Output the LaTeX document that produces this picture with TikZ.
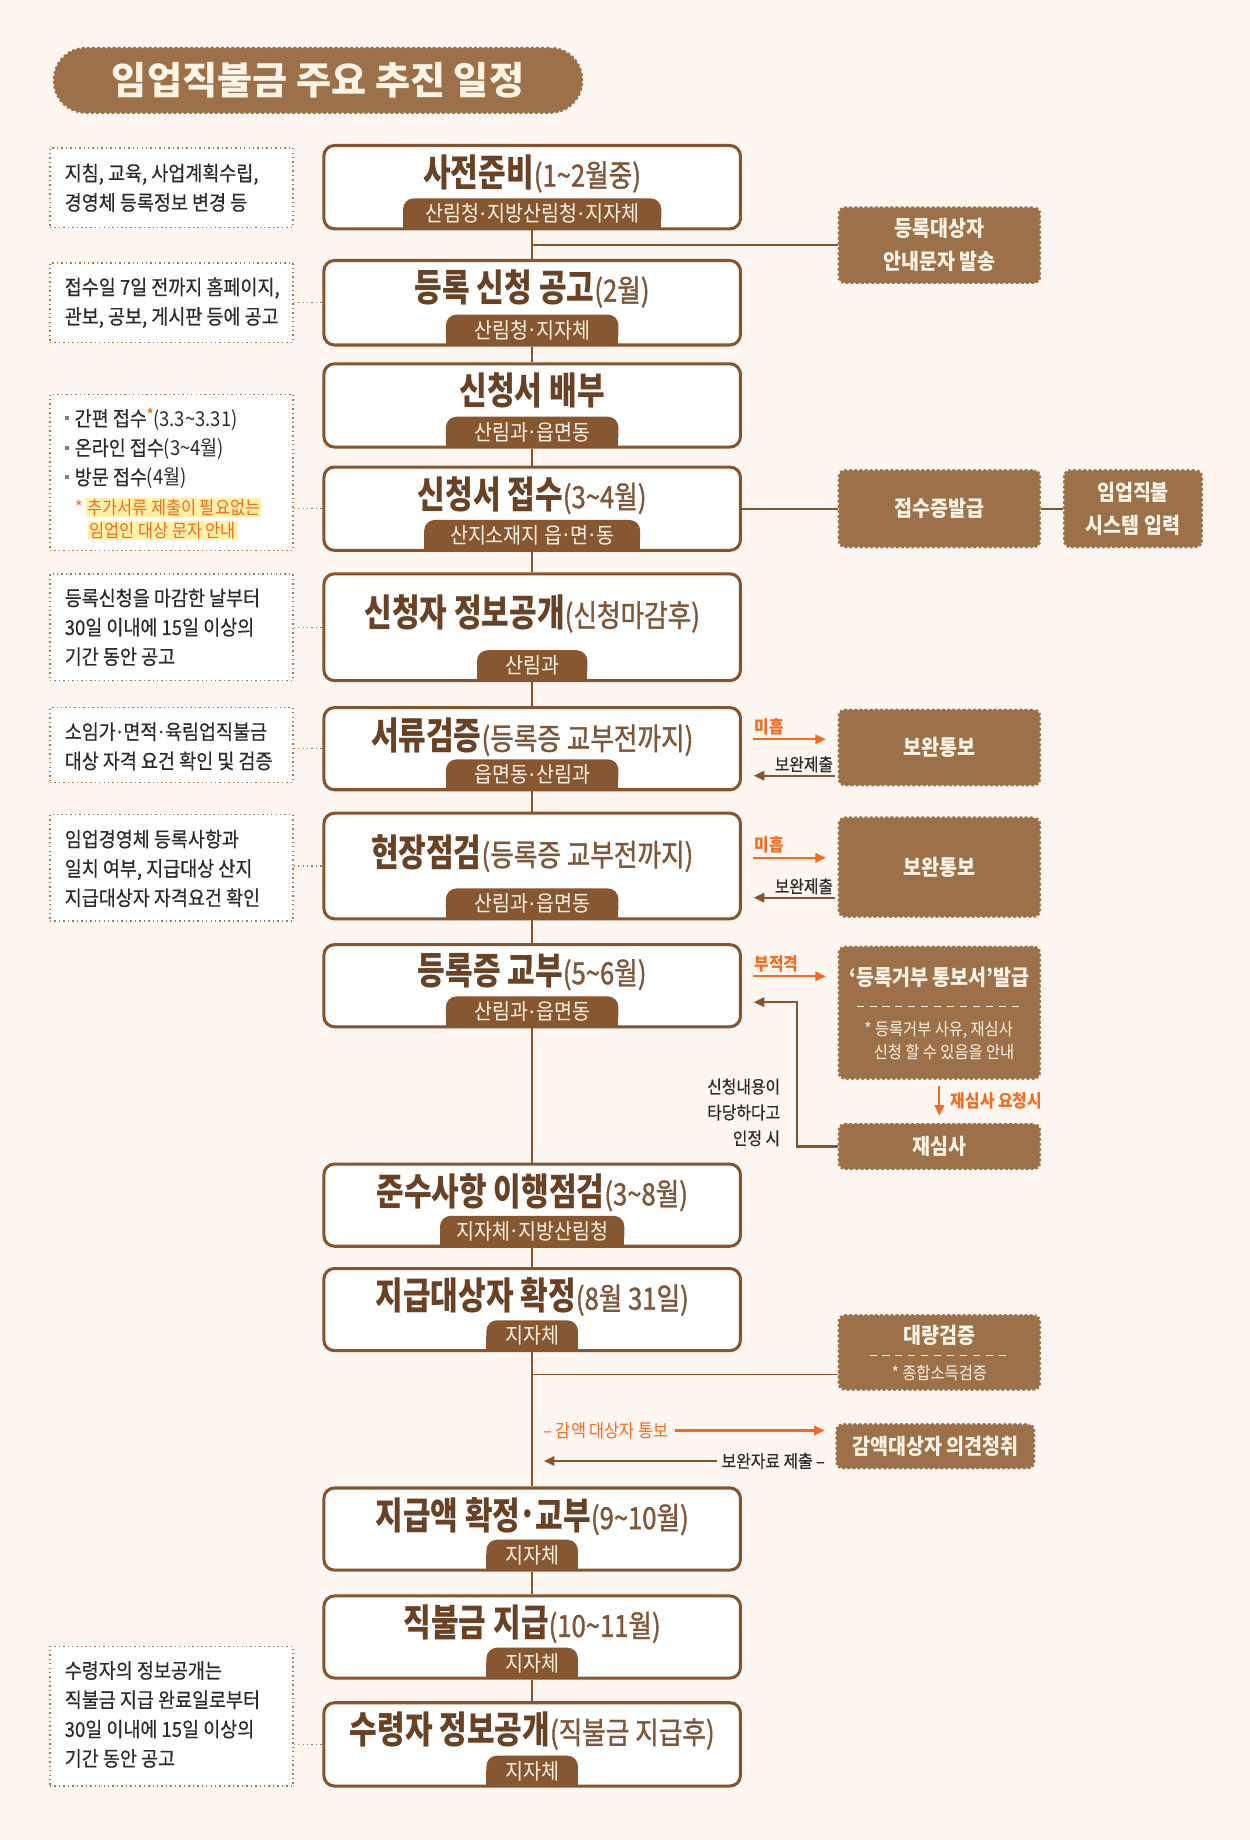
\documentclass[tikz,border=0pt]{standalone}
\usepackage{fontspec}
\setmainfont{Noto Sans CJK KR}
\newfontfamily\krcond{Noto Sans CJK KR}[FakeStretch=0.8]
\newfontfamily\krparen{Noto Sans CJK KR}[FakeStretch=0.84, FakeBold=1.2]
\newfontfamily\krnote{Noto Sans CJK KR}[FakeStretch=0.9, FakeBold=0.5]
\newfontfamily\krnarrow{Noto Sans CJK KR}[FakeStretch=0.9]
\usepackage{xcolor}
\usetikzlibrary{arrows.meta, positioning, calc, patterns.meta}

\definecolor{bgcream}{HTML}{FEF7F1}
\definecolor{stampbrown}{HTML}{9C7149}
\definecolor{linebrown}{HTML}{86552F}
\definecolor{titlebrown}{HTML}{694226}
\definecolor{parenbrown}{HTML}{7E5639}
\definecolor{tagbrown}{HTML}{875731}
\definecolor{creamtext}{HTML}{FFF4E6}
\definecolor{accent}{HTML}{F36C21}
\definecolor{notegray}{HTML}{2E2A27}
\definecolor{noteline}{HTML}{A47A55}
\definecolor{hlyellow}{HTML}{FFF2A8}

\newcommand{\subparen}[1]{{\krparen\mdseries\color{parenbrown}\fontsize{26}{26}\selectfont #1}}
\newcommand{\hlbox}[1]{{\setlength{\fboxsep}{1pt}\colorbox{hlyellow}{#1}}}
\newcommand{\tld}{\textasciitilde}
\newcommand{\mdot}{\kern0.06em\raisebox{0.3em}{.}\kern0.06em}
\newcommand{\bul}{{\color{gray}\rule[0.28em]{3.5pt}{3.5pt}}\hspace{5pt}}
\newcommand{\stagetag}[4]{%
  \fill[tagbrown] ($(#2.south)+(-#3/2,-1)$) rectangle ($(#2.south)+(#3/2,-14)$);
  \node[tagbox, minimum width=#3pt] (#1) at ($(#2.south)+(0,-1)$) {#4};}

\begin{document}
\begin{tikzpicture}[x=1pt, y=-1pt, >={Triangle[length=9pt,width=8pt]},
  stagebox/.style={draw=linebrown, line width=2.6pt, fill=white, rounded corners=9pt, minimum width=355pt, inner sep=0pt},
  stagetitle/.style={font=\krcond\bfseries\fontsize{32}{32}\selectfont, text=titlebrown, inner sep=0pt},
  tagbox/.style={fill=tagbrown, text=creamtext, rounded corners=9pt, minimum height=26pt, inner sep=0pt, anchor=south, font=\krnarrow\fontsize{18.5}{18.5}\selectfont},
  notebox/.style={draw=noteline, line width=1.2pt, dash pattern=on 1.2pt off 2.6pt, fill=white, minimum width=207pt, inner sep=0pt, anchor=west},
  notetext/.style={align=left, anchor=west, inner sep=0pt, text=notegray, font=\krnote\fontsize{17.5}{25}\selectfont},
  plainstamp/.style={fill=stampbrown, rounded corners=6pt, text=creamtext, align=center, inner sep=0pt, font=\krnarrow\bfseries\fontsize{18.5}{28}\selectfont,
    postaction={draw=bgcream, line width=2.4pt, dash pattern=on 0pt off 4.4pt, line cap=round}},
  stamp/.style={plainstamp, preaction={fill=stampbrown},
    preaction={pattern={Lines[angle=45, distance=14pt, line width=0.7pt]}, pattern color=stampbrown!82!white}},
  stamptext/.style={text=creamtext, inner sep=0pt, align=center, font=\krnarrow\bfseries\fontsize{18.5}{28}\selectfont},
  stampsub/.style={text=creamtext, inner sep=0pt, align=left, font=\krnarrow\fontsize{14.5}{20}\selectfont},
  link/.style={draw=linebrown, line width=1.6pt},
  dotlink/.style={draw=noteline, line width=1.2pt, dash pattern=on 1.2pt off 2.6pt},
  oarrow/.style={->, draw=accent, line width=1.8pt},
  barrow/.style={->, draw=linebrown, line width=1.8pt},
  olabel/.style={text=accent, font=\krnarrow\bfseries\fontsize{15}{17}\selectfont, inner sep=1pt},
  blabel/.style={text=notegray, font=\krnote\fontsize{15}{22}\selectfont, inner sep=1pt}]

\fill[bgcream] (0,0) rectangle (1065,1568);
\useasboundingbox (0,0) rectangle (1065,1568);

% title
\node[plainstamp, rounded corners=28pt, minimum width=452pt, minimum height=57pt, font=\bfseries\fontsize{32.5}{32.5}\selectfont] (head) at (271,68.5) {임업직불금 주요 추진 일정};

% main column
\node[stagebox, minimum height=71pt] (s1) at (453.5,159.5) {};
\node[stagetitle] (s1t) at (453.5,148) {사전준비\subparen{(1\tld 2월중)}};
\stagetag{s1g}{s1}{220}{산림청\mdot 지방산림청\mdot 지자체}

\node[stagebox, minimum height=72pt] (s2) at (453.5,258) {};
\node[stagetitle] (s2t) at (453.5,246) {등록 신청 공고\subparen{(2월)}};
\stagetag{s2g}{s2}{147}{산림청\mdot 지자체}

\node[stagebox, minimum height=71pt] (s3) at (453.5,345.5) {};
\node[stagetitle] (s3t) at (453.5,333) {신청서 배부};
\stagetag{s3g}{s3}{147}{산림과\mdot 읍면동}

\node[stagebox, minimum height=71pt] (s4) at (453.5,433.5) {};
\node[stagetitle] (s4t) at (453.5,422) {신청서 접수\subparen{(3\tld 4월)}};
\stagetag{s4g}{s4}{184}{산지소재지 읍\mdot 면\mdot 동}

\node[stagebox, minimum height=91pt] (s5) at (453.5,534.5) {};
\node[stagetitle] (s5t) at (453.5,523) {신청자 정보공개\subparen{(신청마감후)}};
\stagetag{s5g}{s5}{94}{산림과}

\node[stagebox, minimum height=70pt] (s6) at (453.5,638) {};
\node[stagetitle] (s6t) at (453.5,628) {서류검증\subparen{(등록증 교부전까지)}};
\stagetag{s6g}{s6}{147}{읍면동\mdot 산림과}

\node[stagebox, minimum height=90pt] (s7) at (453.5,738) {};
\node[stagetitle] (s7t) at (453.5,727) {현장점검\subparen{(등록증 교부전까지)}};
\stagetag{s7g}{s7}{147}{산림과\mdot 읍면동}

\node[stagebox, minimum height=70pt] (s8) at (453.5,840) {};
\node[stagetitle] (s8t) at (453.5,828) {등록증 교부\subparen{(5\tld 6월)}};
\stagetag{s8g}{s8}{147}{산림과\mdot 읍면동}

\node[stagebox, minimum height=70pt] (s9) at (453.5,1027) {};
\node[stagetitle] (s9t) at (453.5,1016) {준수사항 이행점검\subparen{(3\tld 8월)}};
\stagetag{s9g}{s9}{157}{지자체\mdot 지방산림청}

\node[stagebox, minimum height=70pt] (s10) at (453.5,1116) {};
\node[stagetitle] (s10t) at (453.5,1105) {지급대상자 확정\subparen{(8월 31일)}};
\stagetag{s10g}{s10}{78}{지자체}

\node[stagebox, minimum height=70pt] (s11) at (453.5,1303) {};
\node[stagetitle] (s11t) at (453.5,1292) {지급액 확정\mdot 교부\subparen{(9\tld 10월)}};
\stagetag{s11g}{s11}{78}{지자체}

\node[stagebox, minimum height=70pt] (s12) at (453.5,1395) {};
\node[stagetitle] (s12t) at (453.5,1384) {직불금 지급\subparen{(10\tld 11월)}};
\stagetag{s12g}{s12}{78}{지자체}

\node[stagebox, minimum height=71pt] (s13) at (453.5,1486.5) {};
\node[stagetitle] (s13t) at (453.5,1475) {수령자 정보공개\subparen{(직불금 지급후)}};
\stagetag{s13g}{s13}{78}{지자체}

\draw[link] (s1) -- (s2) (s2) -- (s3) (s3) -- (s4) (s4) -- (s5) (s5) -- (s6) (s6) -- (s7)
  (s7) -- (s8) (s8) -- (s9) (s9) -- (s10) (s10) -- (s11) (s11) -- (s12) (s12) -- (s13);

% notes on the left
\node[notebox, minimum height=68pt] (n1) at (42,160) {};
\node[notetext] (n1x) at (55,160) {지침, 교육, 사업계획수립,\\경영체 등록정보 변경 등};
\node[notebox, minimum height=68pt] (n2) at (42,258) {};
\node[notetext] (n2x) at (55,258) {접수일 7일 전까지 홈페이지,\\관보, 공보, 게시판 등에 공고};
\node[notebox, minimum height=133pt] (n3) at (42,402.5) {};
\node[notetext] (n3x) at (55,404) {\bul 간편 접수{\color{accent}\raisebox{5pt}{\fontsize{13}{13}\selectfont *}}{\krnarrow(3.3\tld 3.31)}\\
  \bul 온라인 접수{\krnarrow(3\tld 4월)}\\
  \bul 방문 접수{\krnarrow(4월)}\\
  {\krnarrow\fontsize{15.5}{20}\selectfont\color{accent}\hspace*{9pt}*\,\hlbox{추가서류 제출이 필요없는}}\\[-5pt]
  {\krnarrow\fontsize{15.5}{20}\selectfont\color{accent}\hspace*{20pt}\hlbox{임업인 대상 문자 안내}}};
\node[notebox, minimum height=91pt] (n4) at (42,534.5) {};
\node[notetext] (n4x) at (55,534.5) {등록신청을 마감한 날부터\\30일 이내에 15일 이상의\\기간 동안 공고};
\node[notebox, minimum height=64pt] (n5) at (42,635) {};
\node[notetext] (n5x) at (55,636) {소임가\mdot 면적\mdot 육림업직불금\\대상 자격 요건 확인 및 검증};
\node[notebox, minimum height=91pt] (n6) at (42,739.5) {};
\node[notetext] (n6x) at (55,740) {임업경영체 등록사항과\\일치 여부, 지급대상 산지\\지급대상자 자격요건 확인};
\node[notebox, minimum height=119pt] (n7) at (42,1462.5) {};
\node[notetext] (n7x) at (55,1461) {수령자의 정보공개는\\직불금 지급 완료일로부터\\30일 이내에 15일 이상의\\기간 동안 공고};

\draw[dotlink] (n2.east |- s2.west) -- (s2.west);
\draw[dotlink] (n3.east |- s4.west) -- (s4.west);
\draw[dotlink] (n4.east |- s5.west) -- (s5.west);
\draw[dotlink] (n5.east |- s6.west) -- (s6.west);
\draw[dotlink] (n6.east |- s7.west) -- (s7.west);
\draw[dotlink] (n7.east |- s13.west) -- (s13.west);

% stamps on the right
\node[stamp, minimum width=173pt, minimum height=66pt] (r1) at (800.5,209) {등록대상자\\안내문자 발송};
\node[stamp, minimum width=173pt, minimum height=67pt] (r2) at (800.5,433.5) {접수증발급};
\node[stamp, minimum width=119pt, minimum height=67pt] (r3) at (965.5,433.5) {임업직불\\시스템 입력};
\node[stamp, minimum width=173pt, minimum height=66pt] (r4) at (800.5,637) {보완통보};
\node[stamp, minimum width=173pt, minimum height=86pt] (r5) at (800.5,739) {보완통보};
\node[stamp, minimum width=173pt, minimum height=114pt] (r6) at (800.5,863) {};
\node[stamptext] (r6a) at (800.5,833) {‘등록거부 통보서’발급};
\draw[creamtext, line width=0.9pt, dash pattern=on 6pt off 5pt] (730,858) -- (872,858);
\node[stampsub] (r6b) at (800.5,887) {* 등록거부 사유, 재심사\\\hspace*{8pt}신청 할 수 있음을 안내};
\node[stamp, minimum width=173pt, minimum height=40pt] (r7) at (800.5,977) {재심사};
\node[stamp, minimum width=173pt, minimum height=65pt] (r8) at (800.5,1152.5) {};
\node[stamptext] (r8a) at (800.5,1138) {대량검증};
\draw[creamtext, line width=0.9pt, dash pattern=on 6pt off 5pt] (741,1155) -- (862,1155);
\node[stampsub] (r8b) at (800.5,1170) {* 종합소득검증};
\node[stamp, minimum width=170pt, minimum height=39pt] (r9) at (797,1232.5) {감액대상자 의견청취};

% connectors to the right
\coordinate (b1) at (s1.south |- r1.west);
\draw[link] (b1) -- (r1.west);
\draw[link] (s4) -- (r2);
\draw[link] (r2) -- (r3);
\coordinate (b2) at ($(s10.south)+(0,19)$);
\draw[link] (b2) -- (b2 -| r8.west);

\draw[oarrow] ($(s6.east)+(9,-8)$) -- ($(r4.west)+(-10,-7)$) node[olabel, pos=0, anchor=south west, yshift=2pt] (m1) {미흡};
\draw[barrow] ($(r4.west)+(-2,24)$) -- ($(s6.east)+(10,23)$) node[blabel, pos=0, anchor=south east, yshift=1pt] (c1) {보완제출};
\draw[oarrow] ($(s7.east)+(9,-7)$) -- ($(r5.west)+(-10,-8)$) node[olabel, pos=0, anchor=south west, yshift=2pt] (m2) {미흡};
\draw[barrow] ($(r5.west)+(-2,26)$) -- ($(s7.east)+(10,27)$) node[blabel, pos=0, anchor=south east, yshift=1pt] (c2) {보완제출};
\draw[oarrow] ($(s8.east)+(9,-8)$) -- ($(r6.west)+(-10,-31)$) node[olabel, pos=0, anchor=south west, yshift=2pt] (m3) {부적격};
\draw[oarrow] ($(r6.south)+(0,5)$) -- ($(r7.north)+(0,-6)$) node[olabel, midway, right=8pt] (q1) {재심사 요청시};
\draw[barrow] (r7.west) -- ++(-35,0) |- ($(s8.east)+(10,14)$);
\node[blabel, anchor=east, align=right] (q2) at (666,948) {신청내용이\\타당하다고\\인정 시};

\node[olabel, anchor=west, font=\krnarrow\fontsize{15.5}{17}\selectfont] (k1) at (462,1219) {– 감액 대상자 통보};
\draw[oarrow] ($(k1.east)+(4,0)$) -- ($(r9.west)+(-9,-13.5)$);
\node[blabel, anchor=east] (k2) at (704,1245) {보완자료 제출 –};
\draw[barrow] ($(k2.west)+(-3,0)$) -- ($(s10.south |- k2.west)+(10,0)$);

\end{tikzpicture}
\end{document}
